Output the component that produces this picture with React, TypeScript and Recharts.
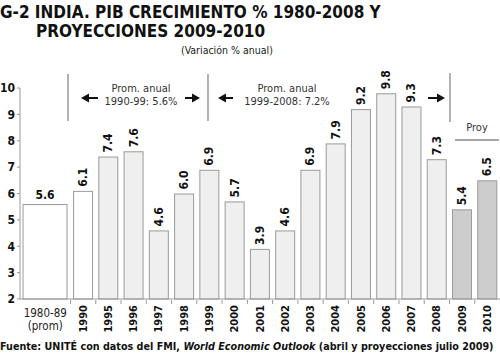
import React from "react";
import { BarChart, Bar, XAxis, YAxis, LabelList } from "recharts";

// slot "" after 1980-89 is a spacer: the decade average bar spans two slots
const years = ["1980-89", "", "1990", "1995", "1996", "1997", "1998", "1999", "2000", "2001", "2002", "2003", "2004", "2005", "2006", "2007", "2008", "2009", "2010"];
const growth = [5.6, null, 6.1, 7.4, 7.6, 4.6, 6.0, 6.9, 5.7, 3.9, 4.6, 6.9, 7.9, 9.2, 9.8, 9.3, 7.3, 5.4, 6.5];
const periods = ["base", "", "base", "hist", "hist", "hist", "hist", "hist", "hist", "hist", "hist", "hist", "hist", "hist", "hist", "hist", "hist", "proj", "proj"];
const yTicks = [2, 3, 4, 5, 6, 7, 8, 9, 10];

const data = years.map((year, i) => ({ year, value: growth[i], period: periods[i] }));

const FONT = "'DejaVu Sans Condensed', 'DejaVu Sans', sans-serif";
const fills: Record<string, string> = { base: "#ffffff", hist: "#efefef", proj: "#cdcdcd" };
const WIDE = 2.25; // 2 slots at 10% category gap

function BarShape(props: any) {
  const { x, y, width, height, payload } = props;
  if (payload.value == null) return null;
  const w = payload.year === "1980-89" ? width * WIDE : width;
  return <rect x={x + 0.5} y={y + 0.5} width={w - 1} height={height - 0.5} fill={fills[payload.period]} stroke="#9a9a9a" strokeWidth={1} />;
}

function ValueLabel(props: any) {
  const { x, y, width, value, index } = props;
  if (value == null) return null;
  const txt = Number(value).toFixed(1);
  if (index === 0) {
    return (
      <text x={x + (width * WIDE) / 2} y={y - 5} textAnchor="middle" fontSize={12} fontWeight="bold" fontFamily={FONT} fill="#111">
        {txt}
      </text>
    );
  }
  const cx = x + width / 2;
  const cy = y - 4;
  return (
    <text x={cx} y={cy} transform={`rotate(-90 ${cx} ${cy})`} textAnchor="start" dominantBaseline="central" fontSize={12} fontWeight="bold" fontFamily={FONT} fill="#111">
      {txt}
    </text>
  );
}

function YearTick(props: any) {
  const { x, y, payload } = props;
  const half = payload.offset || 12.6;
  if (payload.value === "") return null;
  if (payload.value === "1980-89") {
    return (
      <g>
        <text x={x + half} y={y + 10} textAnchor="middle" fontSize={11.5} fontFamily={FONT} fill="#222">1980-89</text>
        <text x={x + half} y={y + 23} textAnchor="middle" fontSize={11.5} fontFamily={FONT} fill="#222">(prom)</text>
      </g>
    );
  }
  const ty = y - 2;
  return (
    <g>
      <line x1={x - half} y1={y - 7} x2={x - half} y2={y - 3} stroke="#9a9a9a" />
      <text x={x} y={ty} transform={`rotate(-90 ${x} ${ty})`} textAnchor="end" dominantBaseline="central" fontSize={11} fontWeight="bold" fontFamily={FONT} fill="#111">
        {payload.value}
      </text>
    </g>
  );
}

function Arrow({ x1, x2, y }: { x1: number; x2: number; y: number }) {
  const dir = x2 > x1 ? 1 : -1;
  return (
    <g>
      <line x1={x1} y1={y} x2={x2 - dir * 6} y2={y} stroke="#111" strokeWidth={2} />
      <path d={`M${x2},${y} L${x2 - dir * 8},${y - 4.5} L${x2 - dir * 8},${y + 4.5} Z`} fill="#111" />
    </g>
  );
}

export default function App() {
  return (
    <div style={{ position: "absolute", left: 0, top: 0, width: 500, height: 356, background: "#fff", fontFamily: FONT, overflow: "hidden" }}>
      <div style={{ position: "absolute", left: 0, top: 2, fontSize: 17, fontWeight: "bold", color: "#111", whiteSpace: "nowrap" }}>
        G-2 INDIA. PIB CRECIMIENTO % 1980-2008 Y
      </div>
      <div style={{ position: "absolute", left: 36, top: 21, fontSize: 17, fontWeight: "bold", color: "#111", whiteSpace: "nowrap" }}>
        PROYECCIONES 2009-2010
      </div>
      <div style={{ position: "absolute", left: 181, top: 44, fontSize: 10.5, color: "#222", whiteSpace: "nowrap" }}>
        (Variación % anual)
      </div>

      <div style={{ position: "absolute", left: 0, top: 0 }}>
        <BarChart width={500} height={356} data={data} margin={{ top: 88, right: 0, bottom: 12, left: 4 }} barCategoryGap="10%">
          <XAxis dataKey="year" interval={0} height={45} axisLine={{ stroke: "#9a9a9a" }} tickLine={false} tick={<YearTick />} />
          <YAxis
            domain={[2, 10]}
            ticks={yTicks}
            width={16}
            interval={0}
            axisLine={{ stroke: "#9a9a9a" }}
            tickLine={{ stroke: "#9a9a9a" }}
            tickSize={3}
            tick={{ fontSize: 12, fontWeight: "bold", fill: "#111", fontFamily: FONT }}
          />
          <Bar dataKey="value" isAnimationActive={false} shape={<BarShape />}>
            <LabelList dataKey="value" content={<ValueLabel />} />
          </Bar>
        </BarChart>
      </div>

      <svg width={500} height={356} style={{ position: "absolute", left: 0, top: 0, pointerEvents: "none" }}>
        <line x1={68} y1={74} x2={68} y2={121} stroke="#888" strokeWidth={1.3} />
        <line x1={208} y1={74} x2={208} y2={121} stroke="#888" strokeWidth={1.3} />
        <line x1={450} y1={73} x2={450} y2={122} stroke="#888" strokeWidth={1.3} />
        <line x1={455} y1={140} x2={499} y2={140} stroke="#888" strokeWidth={1.3} />
        <text x={141} y={92} textAnchor="middle" fontSize={11} fontFamily={FONT} fill="#333">Prom. anual</text>
        <text x={141} y={105} textAnchor="middle" fontSize={11} fontFamily={FONT} fill="#333">1990-99: 5.6%</text>
        <text x={287} y={92} textAnchor="middle" fontSize={11} fontFamily={FONT} fill="#333">Prom. anual</text>
        <text x={287} y={105} textAnchor="middle" fontSize={11} fontFamily={FONT} fill="#333">1999-2008: 7.2%</text>
        <text x={477} y={131} textAnchor="middle" fontSize={11} fontFamily={FONT} fill="#333">Proy</text>
        <Arrow x1={98} x2={81} y={98} />
        <Arrow x1={185} x2={200} y={98} />
        <Arrow x1={233} x2={218} y={98} />
        <Arrow x1={428} x2={445} y={98} />
      </svg>

      <div style={{ position: "absolute", left: 0, top: 340, fontSize: 10.7, fontWeight: "bold", color: "#111", whiteSpace: "nowrap" }}>
        Fuente: UNITÉ con datos del FMI, <i>World Economic Outlook</i> (abril y proyecciones julio 2009)
      </div>
    </div>
  );
}
